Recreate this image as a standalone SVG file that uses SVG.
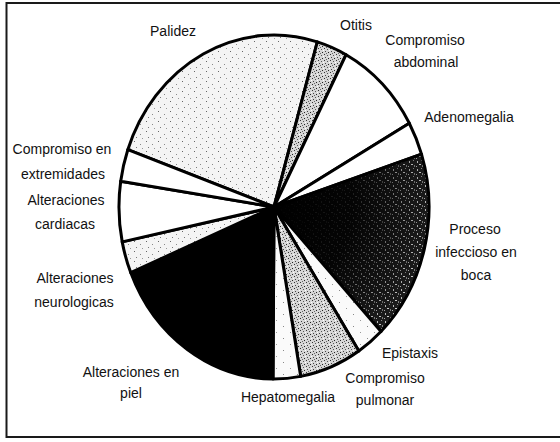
<svg xmlns="http://www.w3.org/2000/svg" width="560" height="442" viewBox="0 0 560 442">
<defs>
<pattern id="lite" width="12" height="10" patternUnits="userSpaceOnUse">
<rect width="12" height="10" fill="#f4f4f4"/>
<rect x="2" y="1" width="1" height="1" fill="#666"/>
<rect x="8" y="4" width="1" height="1" fill="#888"/>
<rect x="4" y="7" width="1" height="1" fill="#777"/>
<rect x="10" y="8" width="1" height="1" fill="#999"/>
</pattern>
<pattern id="vlite" width="14" height="12" patternUnits="userSpaceOnUse">
<rect width="14" height="12" fill="#fafafa"/>
<rect x="3" y="2" width="1" height="1" fill="#888"/>
<rect x="10" y="8" width="1" height="1" fill="#999"/>
</pattern>
<pattern id="med" width="6" height="6" patternUnits="userSpaceOnUse">
<rect width="6" height="6" fill="#d6d6d6"/>
<rect x="0" y="0" width="1" height="1" fill="#333"/>
<rect x="3" y="1" width="1" height="1" fill="#555"/>
<rect x="1" y="3" width="1" height="1" fill="#444"/>
<rect x="4" y="4" width="1" height="1" fill="#222"/>
<rect x="2" y="5" width="1" height="1" fill="#666"/>
<rect x="5" y="2" width="1" height="1" fill="#fff"/>
</pattern>
<pattern id="dark" width="8" height="8" patternUnits="userSpaceOnUse">
<rect width="8" height="8" fill="#1e1e1e"/>
<rect x="1" y="1" width="1" height="2" fill="#cfcfcf"/>
<rect x="5" y="0" width="1" height="1" fill="#9a9a9a"/>
<rect x="3" y="4" width="2" height="1" fill="#e0e0e0"/>
<rect x="6" y="5" width="1" height="2" fill="#8a8a8a"/>
<rect x="0" y="6" width="1" height="1" fill="#bbb"/>
</pattern>
<radialGradient id="fade" gradientUnits="userSpaceOnUse" cx="274" cy="207" r="160">
<stop offset="0" stop-color="#000" stop-opacity="1"/>
<stop offset="0.5" stop-color="#000" stop-opacity="0.85"/>
<stop offset="1" stop-color="#000" stop-opacity="0.05"/>
</radialGradient>
</defs>
<style>
.s{stroke:#000;stroke-width:3;stroke-linejoin:round}
.t{font-family:"Liberation Sans",Arial,sans-serif;font-size:14px;fill:#111;text-anchor:middle}
.f{fill:none;stroke:#1a1a1a;stroke-width:2}
</style>
<g id="frame">
<path class="f" d="M6.5,438 L6.5,3 L560,3"/>
<path class="f" d="M6.5,437 L560,437"/>
</g>
<g id="pie">
<g id="palidez"><path class="s" fill="url(#lite)" d="M274,207 L127.8,149.7 A155,172 0 0 1 317.3,41.9 Z"/></g>
<g id="otitis"><path class="s" fill="url(#med)" d="M274,207 L317.3,41.9 A155,172 0 0 1 346.1,54.7 Z"/></g>
<g id="abdominal"><path class="s" fill="#fff" d="M274,207 L346.1,54.7 A155,172 0 0 1 409.3,123.2 Z"/></g>
<g id="adenomegalia"><path class="s" fill="#fff" d="M274,207 L409.3,123.2 A155,172 0 0 1 421.5,154.2 Z"/></g>
<g id="proceso"><path class="s" fill="url(#dark)" d="M274,207 L421.5,154.2 A155,172 0 0 1 381,331.5 Z"/><path fill="url(#fade)" d="M274,207 L421.5,154.2 A155,172 0 0 1 381,331.5 Z"/></g>
<g id="epistaxis"><path class="s" fill="url(#vlite)" d="M274,207 L381,331.5 A155,172 0 0 1 358.8,351 Z"/></g>
<g id="pulmonar"><path class="s" fill="url(#med)" d="M274,207 L358.8,351 A155,172 0 0 1 300.7,376.4 Z"/></g>
<g id="hepatomegalia"><path class="s" fill="url(#vlite)" d="M274,207 L300.7,376.4 A155,172 0 0 1 273,379 Z"/></g>
<g id="piel"><path class="s" fill="#000" d="M274,207 L273,379 A155,172 0 0 1 130.7,272.6 Z"/></g>
<g id="neurologicas"><path class="s" fill="url(#lite)" d="M274,207 L130.7,272.6 A155,172 0 0 1 122.2,241.9 Z"/></g>
<g id="cardiacas"><path class="s" fill="#fff" d="M274,207 L122.2,241.9 A155,172 0 0 1 120.7,181.3 Z"/></g>
<g id="extremidades"><path class="s" fill="#fff" d="M274,207 L120.7,181.3 A155,172 0 0 1 127.8,149.7 Z"/></g>
</g>
<g id="labels">
<text class="t" x="173" y="36">Palidez</text>
<text class="t" x="356" y="30">Otitis</text>
<text class="t" x="425" y="45">Compromiso</text>
<text class="t" x="426" y="67">abdominal</text>
<text class="t" x="469" y="122">Adenomegalia</text>
<text class="t" x="475" y="234">Proceso</text>
<text class="t" x="476" y="257">infeccioso en</text>
<text class="t" x="476" y="280">boca</text>
<text class="t" x="62" y="154">Compromiso en</text>
<text class="t" x="63" y="179">extremidades</text>
<text class="t" x="66" y="205">Alteraciones</text>
<text class="t" x="65" y="229">cardiacas</text>
<text class="t" x="75" y="283">Alteraciones</text>
<text class="t" x="74" y="307">neurologicas</text>
<text class="t" x="131" y="377">Alteraciones en</text>
<text class="t" x="131" y="398">piel</text>
<text class="t" x="288" y="402">Hepatomegalia</text>
<text class="t" x="410" y="358">Epistaxis</text>
<text class="t" x="385" y="383">Compromiso</text>
<text class="t" x="385" y="405">pulmonar</text>
</g>
</svg>
